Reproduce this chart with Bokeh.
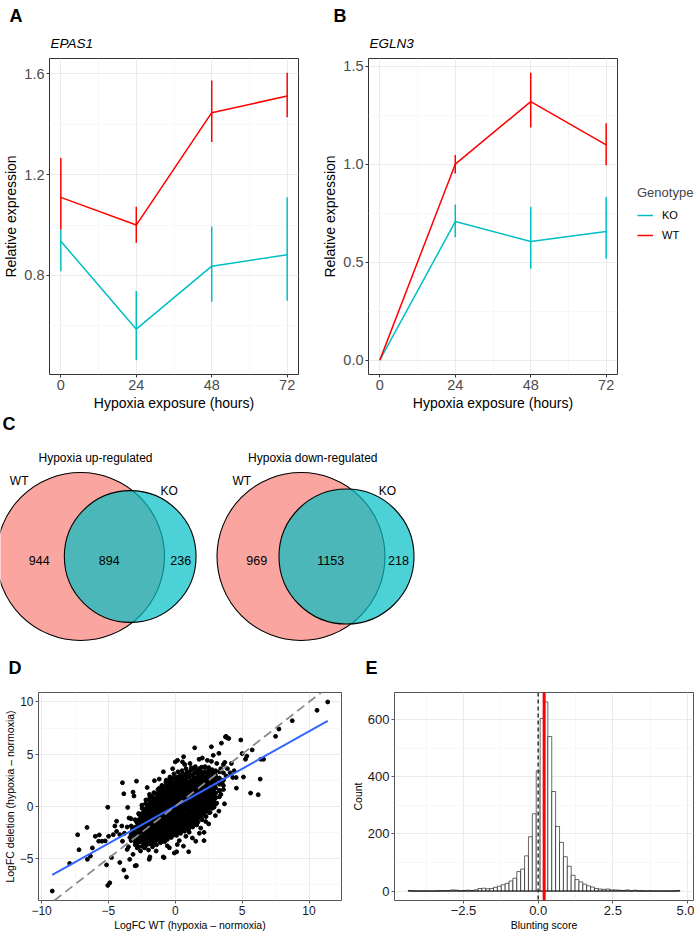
import math
from bokeh.plotting import figure
from bokeh.models import Range1d, FixedTicker, Legend, LegendItem, Span, Slope, Title
from bokeh.layouts import column, row
from bokeh.embed import file_html
from bokeh.resources import INLINE
from bokeh.core.properties import value

FONT = "Liberation Sans"
WT_COL = "#FF0000"
KO_COL = "#00BFC4"

# ---------------- data ----------------
hours = [0, 24, 48, 72]
hour_minor = [12, 36, 60]

epas1_wt_mean = [1.110, 1.000, 1.446, 1.512]
epas1_wt_lo = [0.981, 0.930, 1.330, 1.428]
epas1_wt_hi = [1.266, 1.073, 1.574, 1.604]
epas1_ko_mean = [0.936, 0.587, 0.837, 0.882]
epas1_ko_lo = [0.817, 0.464, 0.696, 0.700]
epas1_ko_hi = [0.981, 0.738, 0.994, 1.110]

egln3_wt_mean = [0.0, 1.000, 1.319, 1.099]
egln3_wt_lo = [0.0, 0.952, 1.187, 0.995]
egln3_wt_hi = [0.0, 1.047, 1.466, 1.209]
egln3_ko_mean = [0.0, 0.707, 0.605, 0.657]
egln3_ko_lo = [0.0, 0.627, 0.466, 0.518]
egln3_ko_hi = [0.0, 0.794, 0.783, 0.833]

venn_titles = ["Hypoxia up-regulated", "Hypoxia down-regulated"]
venn_wt_only = [944, 969]
venn_both = [894, 1153]
venn_ko_only = [236, 218]

# LogFC scatter: (WT, deletion)
scatter_outer = [
    (11.4, 10.0), (10.6, 9.2), (8.75, 8.2), (7.75, 7.4), (7.5, 6.7), (6.6, 4.5), (6.4, 4.5),
    (5.75, 5.4), (4.9, 6.35), (3.75, 6.65), (3.9, 6.55), (3.45, 6.05), (2.7, 5.7), (1.45, 5.6),
    (6.35, 2.6), (6.2, 1.1), (5.63, 1.26), (5.1, 2.8), (4.55, 2.75), (4.3, 2.75), (5.25, 4.5),
    (5.35, 4.8), (5.0, 5.05), (3.26, -0.47), (1.0, -4.37), (0.1, -4.37), (-0.9, -4.87),
    (-1.9, -4.87), (-2.86, -3.68), (-3.0, -5.72), (-3.65, -6.8), (-3.85, -6.13), (-4.9, -7.35),
    (-5.05, -7.6), (-5.14, -5.63), (-6.57, -5.1), (-6.35, -4.78), (-7.2, -4.18), (-7.3, -2.74),
    (-6.6, -2.04), (-7.9, -5.5), (-9.2, -8.14), (-3.95, 2.25), (-2.9, 2.4), (-3.16, 1.35),
    (-5.05, -0.1), (-3.85, 1.19), (-5.73, -3.36), (-5.98, -2.89), (-6.2, -4.0), (-5.68, -2.76),
    (-5.48, -3.36), (-4.77, -4.93), (-3.09, 0.98), (-3.56, -0.12), (-3.46, -1.13), (-4.39, -1.44),
    (-4.52, -1.9), (-5.24, -3.33), (-2.91, -5.69), (-1.95, -5.1), (-0.84, -4.93), (-0.07, -4.49),
    (0.61, -3.83), (1.53, -3.36), (2.15, -3.3), (2.15, -2.51), (3.41, 1.13), (3.68, 0.23),
    (4.57, 1.73), (4.0, 6.5), (3.8, 6.7), (0.62, 4.75), (0.17, 4.4), (0.0, 4.25), (0.54, 4.25),
    (-0.89, 3.3), (-1.56, 2.45), (-2.1, 1.79), (-1.93, 1.13), (2.02, 4.62), (1.78, 4.5),
    (2.84, 4.88), (3.26, 5.07), (2.79, 2.3), (2.54, 1.67), (3.6, 1.98), (2.1, -0.72),
    (2.27, -1.47), (1.9, -2.1), (1.04, -2.5), (0.79, -2.89), (1.28, -3.05), (0.15, -3.68),
    (-0.44, -3.99), (-1.43, -4.3), (-2.17, -3.68), (-2.67, -3.36), (-3.6, -4.15), (-3.95, -3.36),
    (-4.15, -2.73), (-4.39, -2.42), (-4.64, -2.73), (-4.99, -2.89), (-3.16, -4.62), (-3.41, -5.1),
    (-4.15, -5.4),
]
scatter_shell = [
    (-3.2, -2.2), (-3.0, -3.4), (-2.9, -1.5), (-2.85, -4.0), (-2.7, -0.8), (-2.6, -4.3),
    (-2.5, 0.1), (-2.3, -4.0), (-2.2, 0.6), (-2.0, -4.2), (-1.9, 0.9), (-1.7, -3.9), (-1.6, 1.3),
    (-1.4, -3.7), (-1.3, 1.6), (-1.1, -3.5), (-1.0, 2.0), (-0.8, -3.4), (-0.7, 2.3), (-0.6, -3.2),
    (-0.4, 2.8), (-0.3, -3.0), (-0.1, 3.1), (0.1, -2.8), (0.2, 3.3), (0.4, -2.6), (0.5, 3.4),
    (0.7, -2.4), (0.8, 3.6), (1.0, -2.2), (1.2, 3.7), (1.3, -2.0), (1.5, 3.8), (1.6, -1.8),
    (1.8, 3.6), (2.0, -1.3), (2.2, 3.7), (2.3, -1.0), (2.5, 3.5), (2.6, -0.6), (2.8, 3.3),
    (2.9, -0.1), (3.0, 3.0), (3.1, 0.3), (3.2, 2.6), (3.3, 1.5), (3.4, 3.6), (3.5, 2.2),
    (3.7, 4.2), (3.8, 2.9), (3.1, 4.1), (2.7, 4.3), (2.4, 4.4), (3.9, 3.6), (4.1, 3.2),
    (4.2, 4.1), (4.4, 3.4), (-3.4, -3.0), (-3.6, -2.0), (-3.3, -1.2), (-3.8, -2.6), (-3.5, -3.9),
    (-4.0, -1.9), (1.1, 4.1), (0.7, 4.0), (-0.2, 3.6), (-1.2, 2.6), (-0.6, -3.8), (0.3, -3.3),
    (1.8, -2.6), (2.5, -1.7), (3.0, -0.9), (-2.0, -0.3),
]
scatter_core = [
    (-2.64, -3.38), (-2.58, -2.93), (-2.66, -2.47), (-2.55, -2.02), (-2.61, -1.57), (-2.57, -1.12),
    (-2.36, -3.62), (-2.41, -3.14), (-2.33, -2.71), (-2.39, -2.26), (-2.31, -1.88), (-2.37, -1.41),
    (-2.42, -0.93), (-2.34, -0.44),
    (-2.12, -3.52), (-2.07, -3.03), (-2.15, -2.58), (-2.09, -2.19), (-2.13, -1.77), (-2.06, -1.33),
    (-2.11, -0.88), (-2.16, -0.47), (-2.08, 0.02),
    (-1.86, -3.31), (-1.83, -2.87), (-1.9, -2.46), (-1.84, -2.08), (-1.88, -1.69), (-1.82, -1.27),
    (-1.89, -0.86), (-1.85, -0.49), (-1.81, -0.08), (-1.87, 0.38),
    (-1.61, -3.42), (-1.57, -2.98), (-1.63, -2.61), (-1.58, -2.17), (-1.62, -1.79), (-1.56, -1.38),
    (-1.64, -0.97), (-1.59, -0.58), (-1.55, -0.21), (-1.6, 0.23), (-1.62, 0.68),
    (-1.35, -3.11), (-1.31, -2.69), (-1.36, -2.28), (-1.3, -1.92), (-1.34, -1.47), (-1.29, -1.08),
    (-1.37, -0.71), (-1.32, -0.28), (-1.28, 0.12), (-1.35, 0.53), (-1.31, 0.97),
    (-1.08, -2.98), (-1.05, -2.62), (-1.1, -2.18), (-1.04, -1.81), (-1.09, -1.37), (-1.03, -0.99),
    (-1.11, -0.62), (-1.06, -0.18), (-1.02, 0.21), (-1.08, 0.63), (-1.05, 1.02), (-1.1, 1.48),
    (-0.82, -2.91), (-0.78, -2.48), (-0.84, -2.09), (-0.79, -1.71), (-0.83, -1.28), (-0.77, -0.91),
    (-0.85, -0.49), (-0.8, -0.12), (-0.76, 0.31), (-0.83, 0.69), (-0.79, 1.12), (-0.81, 1.58),
    (-0.56, -2.72), (-0.52, -2.31), (-0.58, -1.88), (-0.53, -1.52), (-0.57, -1.09), (-0.51, -0.71),
    (-0.59, -0.29), (-0.54, 0.08), (-0.5, 0.52), (-0.57, 0.89), (-0.53, 1.31), (-0.55, 1.79),
    (-0.58, 2.27),
    (-0.29, -2.58), (-0.26, -2.19), (-0.31, -1.81), (-0.25, -1.38), (-0.3, -1.02), (-0.24, -0.59),
    (-0.32, -0.21), (-0.27, 0.22), (-0.23, 0.58), (-0.3, 1.01), (-0.26, 1.42), (-0.28, 1.88),
    (-0.31, 2.41),
    (-0.03, -2.49), (0.01, -2.08), (-0.04, -1.71), (0.02, -1.29), (-0.02, -0.91), (0.03, -0.52),
    (-0.05, -0.08), (0.0, 0.29), (0.04, 0.72), (-0.03, 1.09), (0.01, 1.52), (-0.01, 1.98),
    (0.02, 2.49),
    (0.24, -2.29), (0.27, -1.92), (0.22, -1.48), (0.28, -1.11), (0.23, -0.69), (0.29, -0.31),
    (0.21, 0.12), (0.26, 0.49), (0.3, 0.91), (0.23, 1.28), (0.27, 1.71), (0.25, 2.12), (0.22, 2.58),
    (0.5, -2.12), (0.53, -1.68), (0.48, -1.31), (0.54, -0.88), (0.49, -0.52), (0.55, -0.09),
    (0.47, 0.28), (0.52, 0.71), (0.56, 1.09), (0.49, 1.52), (0.53, 1.88), (0.51, 2.32), (0.48, 2.79),
    (0.77, -1.88), (0.8, -1.52), (0.75, -1.09), (0.81, -0.72), (0.76, -0.28), (0.82, 0.09),
    (0.74, 0.52), (0.79, 0.88), (0.83, 1.31), (0.76, 1.69), (0.8, 2.12), (0.78, 2.49), (0.75, 2.98),
    (1.03, -1.72), (1.06, -1.29), (1.01, -0.91), (1.07, -0.48), (1.02, -0.12), (1.08, 0.31),
    (1.0, 0.69), (1.05, 1.12), (1.09, 1.48), (1.02, 1.91), (1.06, 2.28), (1.04, 2.79), (1.01, 3.21),
    (1.3, -1.48), (1.33, -1.12), (1.28, -0.69), (1.34, -0.31), (1.29, 0.12), (1.35, 0.48),
    (1.27, 0.91), (1.32, 1.29), (1.36, 1.72), (1.29, 2.09), (1.33, 2.52), (1.31, 2.98),
    (1.56, -1.31), (1.59, -0.88), (1.54, -0.52), (1.6, -0.09), (1.55, 0.29), (1.61, 0.72),
    (1.53, 1.09), (1.58, 1.52), (1.62, 1.88), (1.55, 2.31), (1.59, 2.69), (1.57, 3.18),
    (1.83, -0.98), (1.86, -0.62), (1.81, -0.19), (1.87, 0.18), (1.82, 0.61), (1.88, 0.98),
    (1.8, 1.41), (1.85, 1.79), (1.89, 2.21), (1.82, 2.58), (1.86, 3.08),
    (2.09, -0.71), (2.12, -0.28), (2.07, 0.09), (2.13, 0.52), (2.08, 0.88), (2.14, 1.31),
    (2.06, 1.69), (2.11, 2.12), (2.15, 2.61), (2.08, 3.09),
    (2.36, -0.38), (2.39, 0.02), (2.34, 0.41), (2.4, 0.79), (2.35, 1.22), (2.41, 1.58),
    (2.33, 2.01), (2.38, 2.49), (2.42, 2.98),
    (2.62, 0.12), (2.65, 0.51), (2.6, 0.92), (2.66, 1.29), (2.61, 1.72), (2.67, 2.19), (2.59, 2.71),
    (2.89, 0.61), (2.92, 0.98), (2.87, 1.49), (2.93, 1.98), (2.88, 2.51),
    (-2.86, -3.2), (-2.83, -2.6), (-2.88, -2.1), (-2.84, -1.6), (-3.08, -2.9), (-3.12, -2.4),
]
# second, interleaved set of core points: (WT value, deletion values at that WT value)
scatter_core_cols = [
    (-3.3, [-3.3, -2.7, -1.9]),
    (-3.0, [-3.7, -3.1, -2.6, -2.0, -1.3]),
    (-2.74, [-3.9, -3.4, -2.9, -2.3, -1.8, -1.3, -0.7]),
    (-2.48, [-3.85, -3.38, -2.92, -2.48, -2.05, -1.62, -1.17, -0.69, -0.2]),
    (-2.22, [-3.81, -3.27, -2.81, -2.39, -1.98, -1.55, -1.1, -0.67, -0.23, 0.25]),
    (-1.97, [-3.62, -3.08, -2.67, -2.27, -1.88, -1.48, -1.07, -0.68, -0.29, 0.17, 0.62]),
    (-1.72, [-3.69, -3.19, -2.79, -2.39, -1.99, -1.58, -1.18, -0.77, -0.39, 0.01, 0.45, 0.93]),
    (-1.46, [-3.31, -2.88, -2.47, -2.08, -1.68, -1.28, -0.88, -0.49, -0.08, 0.32, 0.75, 1.21]),
    (-1.2, [-3.28, -2.81, -2.42, -1.99, -1.59, -1.19, -0.79, -0.41, 0.01, 0.42, 0.83, 1.27, 1.72]),
    (-0.94, [-3.18, -2.71, -2.29, -1.9, -1.49, -1.09, -0.71, -0.31, 0.09, 0.51, 0.91, 1.33, 1.81]),
    (-0.68, [-3.05, -2.61, -2.21, -1.79, -1.41, -0.99, -0.61, -0.19, 0.21, 0.61, 1.01, 1.42, 1.98, 2.5]),
    (-0.41, [-2.88, -2.41, -2.01, -1.61, -1.2, -0.81, -0.41, 0.0, 0.4, 0.79, 1.21, 1.61, 2.12, 2.62]),
    (-0.15, [-2.79, -2.29, -1.89, -1.5, -1.11, -0.71, -0.29, 0.1, 0.51, 0.9, 1.3, 1.72, 2.21, 2.72]),
    (0.12, [-2.61, -2.19, -1.79, -1.39, -0.99, -0.61, -0.2, 0.2, 0.61, 1.01, 1.41, 1.82, 2.3, 2.81]),
    (0.38, [-2.45, -2.01, -1.6, -1.21, -0.8, -0.41, 0.01, 0.39, 0.79, 1.2, 1.6, 2.01, 2.49, 2.98]),
    (0.64, [-2.31, -1.89, -1.49, -1.11, -0.7, -0.3, 0.1, 0.51, 0.9, 1.31, 1.71, 2.12, 2.6, 3.1]),
    (0.91, [-2.09, -1.71, -1.31, -0.9, -0.51, -0.1, 0.29, 0.71, 1.1, 1.49, 1.91, 2.31, 2.78, 3.28]),
    (1.17, [-1.91, -1.5, -1.1, -0.69, -0.3, 0.1, 0.51, 0.89, 1.3, 1.71, 2.1, 2.52, 3.0, 3.45]),
    (1.44, [-1.69, -1.31, -0.89, -0.5, -0.1, 0.31, 0.7, 1.1, 1.51, 1.9, 2.31, 2.72, 3.21, 3.6]),
    (1.7, [-1.51, -1.1, -0.71, -0.29, 0.1, 0.5, 0.91, 1.3, 1.7, 2.1, 2.5, 2.91, 3.42]),
    (1.97, [-1.21, -0.81, -0.41, 0.0, 0.4, 0.79, 1.2, 1.6, 2.0, 2.41, 2.82, 3.3, 3.75]),
    (2.23, [-0.91, -0.5, -0.1, 0.31, 0.7, 1.1, 1.49, 1.91, 2.31, 2.79, 3.28, 3.8]),
    (2.5, [-0.61, -0.19, 0.21, 0.6, 1.01, 1.4, 1.79, 2.22, 2.71, 3.2, 3.7]),
    (2.76, [-0.2, 0.3, 0.71, 1.1, 1.5, 1.95, 2.45, 2.95, 3.5]),
    (3.02, [0.2, 0.8, 1.25, 1.75, 2.25, 2.8, 3.4]),
    (3.3, [0.9, 1.5, 2.1, 2.7, 3.3]),
    (3.6, [1.6, 2.5, 3.2, 4.0]),
]
fit_slope = 0.717
fit_intercept = 0.0

# Blunting score histogram
blunt_bin_start = -4.355
blunt_bin_width = 0.13
blunt_counts = [
    2, 0, 0, 0, 0, 0, 0, 1, 1, 1,
    2, 4, 3, 1, 2, 3, 2, 4, 9, 10,
    8, 9, 13, 17, 22, 27, 35, 45, 68, 77,
    123, 190, 270, 420, 603, 661, 540, 348, 226, 170,
    120, 87, 55, 40, 32, 24, 18, 14, 9, 7,
    6, 7, 4, 4, 3, 2, 4, 1, 3, 1,
    1, 0, 1, 0, 0, 0, 0, 0, 0, 2,
]
blunt_mean = 0.2


# ---------------- helpers ----------------
def expand(lo, hi, frac=0.05):
    pad = (hi - lo) * frac
    return Range1d(lo - pad, hi + pad)


def style(p, tick_size, tick_color, title_size, border, lab_standoff=1, title_standoff=2):
    p.outline_line_color = border
    p.outline_line_width = 1
    p.background_fill_color = "white"
    for ax in p.axis:
        ax.axis_line_color = None
        ax.major_tick_line_color = border
        ax.major_tick_in = 0
        ax.major_tick_out = 3
        ax.minor_tick_line_color = None
        ax.major_label_text_font = FONT
        ax.major_label_text_font_size = tick_size
        ax.major_label_text_color = tick_color
        ax.major_label_standoff = lab_standoff
        ax.axis_label_text_font = FONT
        ax.axis_label_text_font_size = title_size
        ax.axis_label_text_font_style = "normal"
        ax.axis_label_text_color = "black"
        ax.axis_label_standoff = title_standoff
    p.grid.grid_line_color = "#EBEBEB"
    p.grid.grid_line_width = 1
    p.grid.minor_grid_line_color = "#F3F3F3"
    p.grid.minor_grid_line_width = 0.7


def add_titles(p, letter, letter_offset, letter_standoff, gene=None, gene_standoff=15, spacer=False):
    # panel letter: the figure's own title (outermost)
    p.title.text = letter
    p.title.align = "left"
    p.title.offset = letter_offset
    p.title.text_font = FONT
    p.title.text_font_size = "18px"
    p.title.text_font_style = "bold"
    p.title.text_color = "black"
    p.title.standoff = letter_standoff
    if gene is not None:
        p.add_layout(Title(text=gene, align="left", offset=1, text_font=FONT,
                           text_font_size="13.5px", text_font_style="italic", text_color="black",
                           standoff=gene_standoff), "above")
    if spacer:
        p.add_layout(Title(text=" ", align="left", text_font=FONT, text_font_size="10px",
                           standoff=0), "above")


def expr_panel(wt_m, wt_lo, wt_hi, ko_m, ko_lo, ko_hi, gene, letter, mb_l, mb_r, yt, ylabels, yminor, lx):
    lo = min(wt_lo + ko_lo)
    hi = max(wt_hi + ko_hi)
    p = figure(frame_width=249, frame_height=316, min_border_left=mb_l, min_border_right=mb_r,
               min_border_top=58, min_border_bottom=41,
               x_range=expand(min(hours), max(hours)), y_range=expand(lo, hi),
               output_backend="svg", toolbar_location=None)
    p.xaxis.ticker = FixedTicker(ticks=hours, minor_ticks=hour_minor)
    p.yaxis.ticker = FixedTicker(ticks=yt, minor_ticks=yminor)
    p.yaxis.major_label_overrides = {t: s for t, s in zip(yt, ylabels)}
    p.xaxis.axis_label = "Hypoxia exposure (hours)"
    p.yaxis.axis_label = "Relative expression"
    style(p, "14.5px", "#4D4D4D", "14px", "#333333")
    ko_line = p.line(hours, ko_m, line_color=KO_COL, line_width=1.5)
    p.segment(hours, ko_lo, hours, ko_hi, line_color=KO_COL, line_width=1.5)
    wt_line = p.line(hours, wt_m, line_color=WT_COL, line_width=1.5)
    p.segment(hours, wt_lo, hours, wt_hi, line_color=WT_COL, line_width=1.5)
    add_titles(p, letter, lx, 2, gene, 15)
    return p, ko_line, wt_line


pA, _, _ = expr_panel(epas1_wt_mean, epas1_wt_lo, epas1_wt_hi, epas1_ko_mean, epas1_ko_lo, epas1_ko_hi,
                      "EPAS1", "A", 42, 21, [0.8, 1.2, 1.6], ["0.8", "1.2", "1.6"], [0.6, 1.0, 1.4], -40)
pB, koB, wtB = expr_panel(egln3_wt_mean, egln3_wt_lo, egln3_wt_hi, egln3_ko_mean, egln3_ko_lo, egln3_ko_hi,
                          "EGLN3", "B", 47, 77, [0.0, 0.5, 1.0, 1.5], ["0.0", "0.5", "1.0", "1.5"],
                          [0.25, 0.75, 1.25], -35)
legB = Legend(items=[LegendItem(label="KO", renderers=[koB]), LegendItem(label="WT", renderers=[wtB])],
              title="Genotype", location=(20, 129), orientation="vertical",
              margin=0, padding=0, spacing=0, glyph_width=16, glyph_height=20, label_height=20,
              label_standoff=9, label_text_font=FONT, label_text_font_size="11px",
              label_text_color="black",
              title_text_font=FONT, title_text_font_size="13px", title_text_font_style="normal",
              title_standoff=5, border_line_color=None, background_fill_alpha=0)
pB.add_layout(legB, "right")

# ---------------- C: Venn diagrams ----------------
pV = figure(width=684, height=235, x_range=Range1d(8, 692), y_range=Range1d(650, 415),
            x_axis_location=None, y_axis_location=None, min_border=0,
            output_backend="svg", toolbar_location=None)
pV.outline_line_color = None
pV.grid.visible = False

venn_cx_wt = [88.0, 308.5]
venn_cx_ko = [137.7, 354.0]
venn_cy = 556.0
venn_r_wt = 84.0
venn_lab_x = [[46.7, 116.7, 188.3], [264.3, 338.3, 406.0]]
venn_title_x = [103.0, 320.3]
venn_wt_lab_x = [26.7, 249.3]
venn_ko_lab_x = [176.7, 395.0]

for i in range(2):
    wt_tot = venn_wt_only[i] + venn_both[i]
    ko_tot = venn_ko_only[i] + venn_both[i]
    r_ko = venn_r_wt * math.sqrt(ko_tot / wt_tot)
    pV.circle(x=[venn_cx_wt[i]], y=[venn_cy], radius=venn_r_wt, fill_color="#F8766D", fill_alpha=0.66,
              line_color="black", line_width=1.1)
    pV.circle(x=[venn_cx_ko[i]], y=[venn_cy], radius=r_ko, fill_color="#00BFC4", fill_alpha=0.7,
              line_color="black", line_width=1.1)
    pV.text(x=venn_lab_x[i], y=[560] * 3,
            text=[str(venn_wt_only[i]), str(venn_both[i]), str(venn_ko_only[i])],
            text_font=value(FONT), text_font_size="12.5px", text_align="center", text_baseline="middle",
            text_color="black")
    pV.text(x=[venn_title_x[i]], y=[457], text=[venn_titles[i]], text_font=value(FONT),
            text_font_size="12px", text_align="center", text_baseline="middle", text_color="black")
    pV.text(x=[venn_wt_lab_x[i], venn_ko_lab_x[i]], y=[480, 490], text=["WT", "KO"],
            text_font=value(FONT), text_font_size="12px", text_align="center", text_baseline="middle",
            text_color="black")
pV.text(x=[10], y=[423], text=["C"], text_font=value(FONT), text_font_size="18px",
        text_font_style="bold", text_align="left", text_baseline="middle", text_color="black")

# ---------------- D: scatter ----------------
pts = scatter_outer + scatter_shell + scatter_core
for cx, ys in scatter_core_cols:
    pts = pts + [(cx, yy) for yy in ys]
sx = [a for a, b in pts]
sy = [b for a, b in pts]
pD = figure(frame_width=303, frame_height=208, min_border_left=32, min_border_right=7,
            min_border_top=42, min_border_bottom=30,
            x_range=expand(min(sx), max(sx)), y_range=expand(min(sy), max(sy)),
            output_backend="svg", toolbar_location=None)
pD.xaxis.ticker = FixedTicker(ticks=[-10, -5, 0, 5, 10], minor_ticks=[-7.5, -2.5, 2.5, 7.5])
pD.yaxis.ticker = FixedTicker(ticks=[-5, 0, 5, 10], minor_ticks=[-7.5, -2.5, 2.5, 7.5])
pD.xaxis.major_label_overrides = {-10: "\u221210", -5: "\u22125", 0: "0", 5: "5", 10: "10"}
pD.yaxis.major_label_overrides = {-5: "\u22125", 0: "0", 5: "5", 10: "10"}
pD.xaxis.axis_label = "LogFC WT (hypoxia \u2013 normoxia)"
pD.yaxis.axis_label = "LogFC deletion (hypoxia \u2013 normoxia)"
style(pD, "12px", "#1A1A1A", "10.5px", "#555555", 1, 1)
pD.scatter(sx, sy, size=3.9, color="black")
pD.add_layout(Slope(gradient=1, y_intercept=0, line_color="#8C8C8C", line_width=1.8, line_dash="9 5"))
fx = [min(sx), max(sx)]
pD.line(fx, [fit_slope * v + fit_intercept for v in fx], line_color="#3366FF", line_width=2)
add_titles(pD, "D", -30, 3, spacer=True)

# ---------------- E: histogram ----------------
lefts = [blunt_bin_start + blunt_bin_width * i for i in range(len(blunt_counts))]
rights = [v + blunt_bin_width for v in lefts]
pE = figure(frame_width=299, frame_height=208, min_border_left=42, min_border_right=1,
            min_border_top=42, min_border_bottom=30,
            x_range=expand(lefts[0], rights[-1]), y_range=expand(0, max(blunt_counts)),
            output_backend="svg", toolbar_location=None)
pE.xaxis.ticker = FixedTicker(ticks=[-2.5, 0, 2.5, 5], minor_ticks=[-3.75, -1.25, 1.25, 3.75])
pE.yaxis.ticker = FixedTicker(ticks=[0, 200, 400, 600], minor_ticks=[100, 300, 500])
pE.xaxis.major_label_overrides = {-2.5: "\u22122.5", 0: "0.0", 2.5: "2.5", 5: "5.0"}
pE.xaxis.axis_label = "Blunting score"
pE.yaxis.axis_label = "Count"
style(pE, "13px", "#1A1A1A", "10.5px", "#555555", 1, 1)
pE.quad(left=lefts, right=rights, bottom=0, top=blunt_counts, fill_color="white",
        line_color="black", line_width=0.6)
pE.line([lefts[0], rights[-1]], [0, 0], line_color="black", line_width=0.8)
pE.add_layout(Span(location=0, dimension="height", line_color="#333333", line_width=1.5, line_dash="4 3"))
pE.add_layout(Span(location=blunt_mean, dimension="height", line_color="#FF0000", line_width=3))
add_titles(pE, "E", -29, 3, spacer=True)

layout = column(row(pA, pB), pV, row(pD, pE))
open("out.html", "w").write(file_html(layout, INLINE))
